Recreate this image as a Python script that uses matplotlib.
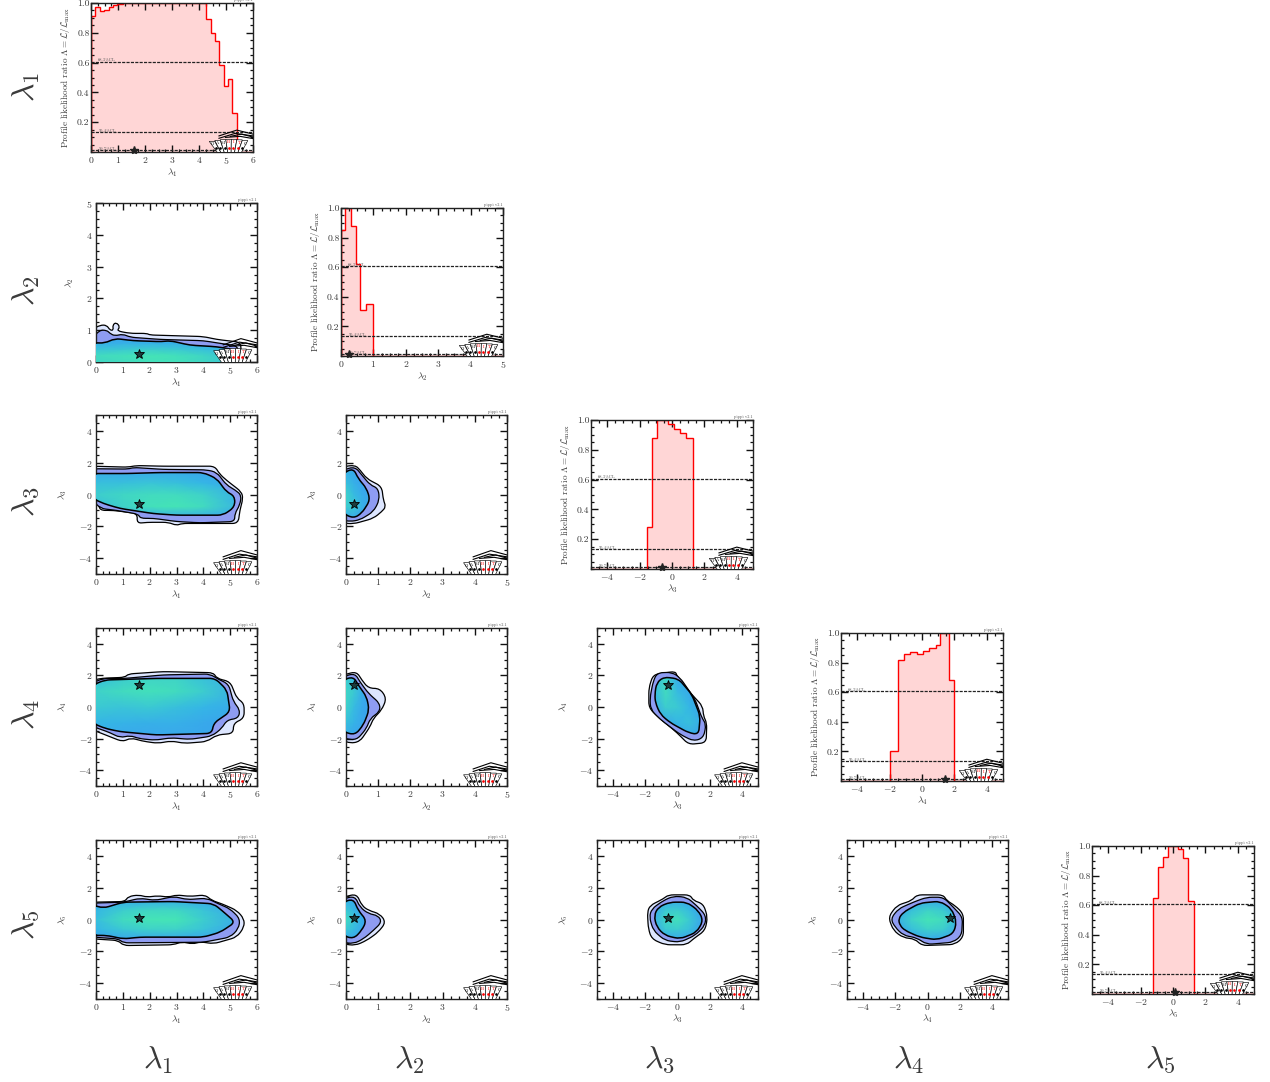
import numpy as np
import matplotlib
matplotlib.use('Agg')
import matplotlib.pyplot as plt
from matplotlib.colors import LinearSegmentedColormap
from matplotlib.patches import Polygon, PathPatch
from matplotlib.path import Path
from matplotlib.ticker import MultipleLocator, FixedLocator, FormatStrFormatter

plt.rcParams['font.family'] = ['cmr10', 'DejaVu Sans']
plt.rcParams['mathtext.fontset'] = 'cm'
plt.rcParams['axes.formatter.use_mathtext'] = True
plt.rcParams['axes.unicode_minus'] = True

W, H = 1270, 1082

names = [r'$\lambda_1$', r'$\lambda_2$', r'$\lambda_3$', r'$\lambda_4$', r'$\lambda_5$']
ranges = [(0, 6), (0, 5), (-5, 5), (-5, 5), (-5, 5)]
best_fit = [1.6, 0.25, -0.6, 1.4, 0.1]
cl_levels = [0.607, 0.135, 0.011]
cl_names = ['68.3%CL', '95.4%CL', '99.7%CL']

# 1D profile likelihood, step edges and heights
prof_edges_1 = [0, .16, .33, .49, .66, .82, .98, 1.2, 4.26, 4.43, 4.59, 4.75, 4.92, 5.08, 5.24, 5.41, 6]
prof_vals_1 = [.91, .97, .945, .955, .975, .985, .995, 1, .895, .80, .745, .585, .44, .49, .26, .002]
prof_edges_2 = [0, .12, .3, .45, .6, .78, .98, 5]
prof_vals_2 = [.85, 1, .88, .62, .31, .35, .002]
prof_edges_3 = [-5, -1.55, -1.23, -.93, -.25, .12, .49, .86, 1.3, 5]
prof_vals_3 = [.002, .28, .88, 1.0, .97, .94, .91, .88, .002]
prof_edges_4 = [-5, -1.98, -1.48, -1.11, -.74, -.31, .06, .43, .86, 1.11, 1.67, 1.98, 5]
prof_vals_4 = [.002, .2, .82, .86, .87, .86, .88, .9, .92, 1.0, .68, .002]
prof_edges_5 = [-5, -1.26, -.95, -.64, -.29, .33, .6, .93, 1.28, 5]
prof_vals_5 = [.002, .65, .855, .925, 1.0, .98, .92, .63, .002]

# 2D contours: (x, y) outlines for 3, 2 and 1 sigma
c12_3 = [(0, 0), (0, 1.03), (.15, 1.16), (.4, 1.16), (.52, 1.0), (.65, 1.0), (.62, 1.16), (.75, 1.25), (.9, 1.1), (.77, .98), (1.27, .9), (1.9, .9), (2, .85), (4, .8), (4.5, .71), (5.4, .62), (5.4, 0)]
c12_2 = [(0, 0), (0, .74), (.12, 1.0), (.4, 1.0), (.52, .9), (.7, .82), (1, .88), (1.27, .78), (2.4, .71), (4, .67), (4.6, .59), (5.3, .5), (5.3, 0)]
c12_1 = [(0, 0), (0, .61), (.33, .59), (.7, .74), (1.4, .67), (2.45, .64), (2.76, .67), (3.5, .53), (4.5, .48), (5.2, .38), (5.2, 0)]

c13_3 = [(0, 1.78), (1.2, 1.72), (1.5, 1.82), (2.5, 1.78), (4.43, 1.78), (4.6, 1.3), (4.86, .9), (5.42, .17), (5.48, -.25), (5.36, -1.0), (5.3, -1.82), (3.2, -1.82), (3, -1.95), (2.7, -1.75), (1.9, -1.75), (1.52, -1.82), (1.55, -1.2), (.65, -1.0), (.14, -1.0), (.1, -.55), (0, -.35)]
c13_2 = [(0, 1.62), (1.2, 1.6), (1.4, 1.7), (2.5, 1.58), (4.12, 1.55), (4.5, 1.4), (4.86, .6), (5.2, .27), (5.42, -.05), (5.36, -.67), (5.17, -1.2), (5.17, -1.7), (3.87, -1.78), (3, -1.7), (2.14, -1.5), (1.65, -1.5), (1.58, -1.24), (.78, -1), (.16, -.88), (0, -.36)]
c13_1 = [(0, 1.32), (1.15, 1.32), (2.38, 1.38), (4, 1.38), (4.5, 1.0), (4.86, .17), (5.17, -.1), (5.17, -.78), (4.74, -1.3), (3, -1.3), (2.14, -1.2), (.9, -.88), (.28, -.57), (0, -.25)]

c23_3 = [(0, 1.75), (.28, 1.85), (.44, 1.54), (.64, 1.0), (1.11, .5), (1.16, -.35), (1.24, -.77), (1.11, -1.08), (.85, -1.5), (.23, -1.85), (0, -1.8)]
c23_2 = [(0, 1.54), (.28, 1.75), (.49, 1.23), (.75, .6), (1, .39), (1.04, -.35), (.85, -1.08), (.43, -1.6), (.12, -1.7), (0, -1.6)]
c23_1 = [(0, 1.33), (.23, 1.65), (.38, 1.0), (.64, .39), (.75, -.35), (.49, -1.18), (.23, -1.5), (0, -1.18)]

c14_3 = [(0, 1.67), (.15, 1.81), (1.08, 1.88), (1.2, 2.09), (2.5, 2.24), (4.38, 2.17), (4.5, 1.81), (5, 1.6), (5.25, .55), (5.52, .23), (5.52, -.72), (5.12, -1.03), (5.12, -1.67), (4.5, -1.77), (4.13, -2.19), (3.3, -2.3), (2.8, -2.15), (2.3, -2.3), (1.7, -2.15), (1.3, -1.95), (1.0, -2.2), (.52, -1.88), (0, -1.45)]
c14_2 = [(0, 1.54), (.27, 1.81), (1.08, 1.81), (2.5, 2.03), (4.25, 2.09), (4.56, 1.75), (4.94, 1.46), (5.12, .34), (5.37, -.19), (5.3, -.72), (4.88, -.82), (4.69, -1.35), (4.32, -1.84), (3.5, -2.05), (2.8, -1.95), (2.2, -2.1), (1.6, -2.0), (1.27, -1.8), (.9, -1.95), (.52, -1.62), (0, -1.24)]
c14_1 = [(0, 1.39), (.33, 1.71), (2.26, 1.81), (4.44, 1.81), (4.88, 1.08), (5, -.3), (4.38, -1.03), (4.32, -1.67), (2.26, -1.77), (.9, -1.56), (.33, -1.35), (0, -1.03)]

c24_3 = [(0, 2.03), (.33, 2.24), (.49, 1.71), (.7, 1.18), (1.05, 1.18), (1.26, .55), (1.11, -.19), (.85, -.72), (.75, -1.24), (.43, -2.19), (.12, -2.3), (0, -2.09)]
c24_2 = [(0, 1.92), (.28, 2.13), (.43, 1.6), (.7, .86), (1.05, .23), (1.05, -.3), (.75, -.72), (.64, -1.35), (.33, -2.09), (0, -1.98)]
c24_1 = [(0, 1.71), (.23, 1.92), (.38, 1.39), (.64, .65), (.72, -.19), (.54, -1.14), (.28, -1.77), (0, -1.56)]

c34_3 = [(-1.78, 1.21), (-1.51, 2.05), (-.13, 2.26), (-.03, 1.95), (.89, .79), (1.57, .05), (1.61, -.58), (1.82, -1), (1.78, -2.26), (.69, -2.37), (-.03, -1.63), (-.65, -1.1), (-1.16, -.68), (-1.78, -.05)]
c34_2 = [(-1.71, .58), (-1.51, 1.63), (-1.26, 2.16), (-.34, 2.2), (.17, 1.84), (1.1, .47), (1.51, -.68), (1.78, -1.1), (1.61, -1.95), (1, -2.16), (.17, -1.74), (-1.06, -.79), (-1.67, -.16)]
c34_1 = [(-1.41, .79), (-1.3, 1.53), (-.85, 1.9), (.07, 1.78), (.89, .79), (1.41, -.58), (1.31, -1.74), (.69, -1.63), (-.44, -1), (-1.06, -.47), (-1.37, .26)]

c15_3 = [(0, 1.09), (1.08, 1.13), (1.2, 1.45), (1.6, 1.55), (1.9, 1.4), (2.3, 1.5), (2.7, 1.4), (3, 1.55), (3.5, 1.45), (4.07, 1.55), (4.31, 1.2), (4.69, .99), (5.25, .57), (5.52, .04), (5.52, -.48), (5.25, -1.11), (4.38, -1.53), (3.9, -1.4), (3.6, -1.55), (3.2, -1.4), (2.89, -1.59), (1.02, -1.64), (.83, -1.32), (0, -1.22)]
c15_2 = [(0, 1.03), (1.02, 1.09), (1.64, 1.34), (2.2, 1.2), (2.9, 1.45), (3.4, 1.25), (4.13, 1.34), (4.56, .99), (5, .67), (5.37, .04), (5.31, -.59), (5, -1.11), (4, -1.43), (1.02, -1.47), (.83, -1.22), (0, -1.11)]
c15_1 = [(0, .92), (.27, .71), (1.02, 1.09), (2.89, 1.13), (4.38, .99), (4.69, .57), (5.19, -.17), (4.63, -.8), (4, -1.11), (1.64, -1.11), (1.02, -1.22), (.4, -1.0), (0, -1.0)]

c25_3 = [(0, 1.4), (.33, 1.61), (.49, .88), (.7, .57), (1.05, .36), (1.24, -.17), (1, -.8), (.64, -1.32), (.28, -1.64), (0, -1.53)]
c25_2 = [(0, 1.3), (.28, 1.47), (.43, .78), (.7, .36), (1, .25), (1.11, -.17), (.85, -.69), (.54, -1.22), (.23, -1.53), (0, -1.43)]
c25_1 = [(0, 1.09), (.23, 1.3), (.38, .57), (.64, -.06), (.49, -.69), (.23, -1.22), (0, -1.0)]

c35_3 = [(-1.87, .46), (-1.71, .88), (-.88, 1.3), (-.57, 1.55), (.78, 1.55), (.98, 1.19), (1.6, .99), (1.87, .15), (1.71, -.69), (.98, -1.22), (.57, -1.59), (-.78, -1.59), (-1.6, -1.22), (-1.81, -.59)]
c35_2 = [(-1.75, .15), (-1.6, .67), (-.88, 1.19), (-.26, 1.47), (.57, 1.4), (1.19, .88), (1.77, .25), (1.71, -.38), (1.09, -1), (.16, -1.43), (-.78, -1.32), (-1.5, -.69)]
c35_1 = [(-1.46, .25), (-1.19, .78), (-.47, 1.09), (.57, 1.09), (1.29, .57), (1.6, -.06), (1.19, -.8), (.16, -1.22), (-.78, -1), (-1.29, -.48)]

c45_3 = [(-2.43, .15), (-1.91, .88), (-.98, 1.19), (-.67, 1.55), (.98, 1.55), (1.19, 1.19), (1.71, .88), (2.23, .36), (2.23, -1.11), (1.71, -1.57), (-.36, -1.64), (-.78, -1.22), (-1.5, -1.15), (-2.12, -.69)]
c45_2 = [(-2.29, .04), (-1.81, .67), (-.88, 1.09), (-.05, 1.4), (.98, 1.4), (1.6, .78), (2.18, .15), (2.12, -1), (1.6, -1.43), (-.05, -1.57), (-.67, -1.15), (-1.5, -1), (-2.02, -.48)]
c45_1 = [(-1.81, .04), (-1.5, .46), (-.47, 1.03), (.78, 1.15), (1.5, .67), (1.81, -.17), (1.6, -.9), (.57, -1.28), (-.47, -1.11), (-1.4, -.69), (-1.71, -.38)]

# likelihood inside the 1 sigma region, coarse grid (rows run along y)
grid_x_1 = [0, 1, 2, 3, 4, 5.5]
grid_x_2 = [0, .25, .5, .8]
grid_x_3 = [-1.5, -.75, 0, .75, 1.5]
grid_x_4 = [-2, -1, 0, 1, 2]
grid_y_2 = [0, .2, .4, .6, .8]
grid_y_3 = [-1.5, -.75, 0, .75, 1.5]
grid_y_4 = [-2, -1, 0, 1, 2]
grid_y_5 = [-1.2, -.6, 0, .6, 1.2]

like_12 = [[.85, .9, .95, .95, .85, .6], [.9, .95, 1, .95, .85, .6], [.65, .7, .75, .7, .6, .4], [.35, .4, .4, .35, .3, .2], [.2, .2, .2, .2, .2, .2]]
like_13 = [[.3, .3, .3, .3, .3, .2], [.6, .8, .95, 1, .9, .4], [.75, .85, .9, .9, .8, .35], [.6, .6, .65, .6, .5, .25], [.25, .25, .25, .25, .2, .15]]
like_14 = [[.25, .25, .25, .25, .25, .15], [.5, .45, .4, .4, .3, .2], [.7, .65, .7, .6, .5, .3], [.8, .9, .95, .9, .75, .3], [.5, .7, .8, .8, .6, .2]]
like_15 = [[.2, .25, .3, .3, .25, .1], [.5, .7, .8, .8, .65, .2], [.6, .9, 1, 1, .75, .25], [.5, .75, .85, .85, .65, .2], [.2, .3, .35, .35, .25, .1]]
like_23 = [[.3, .25, .15, .1], [.75, .7, .4, .15], [.8, .55, .35, .2], [.6, .4, .2, .1], [.4, .3, .15, .1]]
like_24 = [[.25, .2, .1, .1], [.6, .45, .25, .1], [.8, .55, .3, .15], [.85, .7, .35, .15], [.7, .5, .2, .1]]
like_25 = [[.3, .25, .1, .1], [.7, .55, .3, .1], [.9, .65, .35, .15], [.7, .5, .2, .1], [.4, .3, .1, .1]]
like_34 = [[.1, .1, .15, .25, .2], [.15, .3, .5, .6, .35], [.3, .75, .7, .5, .2], [.5, .9, .55, .3, .1], [.6, .8, .3, .1, .1]]
like_35 = [[.1, .25, .3, .2, .1], [.25, .7, .75, .6, .2], [.35, .85, .95, .7, .25], [.3, .7, .75, .55, .2], [.1, .3, .3, .2, .1]]
like_45 = [[.1, .2, .35, .3, .1], [.2, .6, .8, .75, .3], [.3, .8, 1, .9, .4], [.2, .6, .8, .7, .25], [.1, .2, .3, .25, .1]]

logo_letters = ['G', 'A', 'M', 'B', 'I', 'T', 'C']
logo_red = ['B', 'I', 'T']

TEXT = '#3a3a3a'
like_cmap = LinearSegmentedColormap.from_list('like', ['#3d97f2', '#35b6e6', '#45e4b6'])


def make_axes(fig, x0, y0, x1, y1):
    # box given in picture pixels, y from the top
    return fig.add_axes([x0 / W, 1 - y1 / H, (x1 - x0) / W, (y1 - y0) / H])


def style(ax, i, j=None):
    ax.set_xlim(*ranges[i])
    major = 1 if i < 2 else 2
    ax.xaxis.set_major_locator(MultipleLocator(major))
    ax.xaxis.set_minor_locator(MultipleLocator(major / 4))
    if j is not None:
        ax.set_ylim(*ranges[j])
        major = 1 if j < 2 else 2
        ax.yaxis.set_major_locator(MultipleLocator(major))
        ax.yaxis.set_minor_locator(MultipleLocator(major / 4))
    ax.tick_params(which='both', direction='in', top=True, right=True, colors='#111', labelcolor=TEXT,
                   labelsize=7, pad=2.5)
    ax.tick_params(which='major', length=5, width=1.0)
    ax.tick_params(which='minor', length=2.5, width=0.9)
    for s in ax.spines.values():
        s.set_linewidth(1.0)
        s.set_color('#222')
    ax.set_xlabel(names[i], fontsize=7, color=TEXT, labelpad=0)
    ax.text(1.0, 1.006, 'pippi v2.1', transform=ax.transAxes, ha='right', va='bottom', fontsize=3, color='#555')


def draw_logo(ax):
    # little fan of cards in the lower right corner of every panel
    t = ax.transAxes
    n = len(logo_letters)
    for k, letter in enumerate(logo_letters):
        tl = 0.73 + 0.034 * k
        tr = tl + 0.034
        bl = 0.785 + 0.02 * k
        br = bl + 0.02
        top = 0.068 + 0.014 * np.sin(np.pi * (k + 0.5) / n) + 0.001 * k
        ax.add_patch(Polygon([(tl, top), (tr, top), (br, -0.01), (bl, -0.01)], closed=True, transform=t,
                             fc='white', ec='black', lw=0.45, zorder=6))
        col = 'red' if letter in logo_red else 'black'
        ax.text((tl + tr) / 2, top - 0.02, letter, transform=t, fontsize=3.2, color=col,
                ha='center', va='center', zorder=7)
        ax.plot([(tl + tr + bl + br) / 4], [0.03], transform=t, marker='o', ms=0.9, color=col, zorder=7, clip_on=False)
    for xs, ys in [([.79, .90, 1.0], [.108, .147, .12]), ([.79, .89, 1.0], [.092, .125, .108]),
                   ([.83, .92, 1.0], [.098, .105, .09]), ([.86, .93, 1.0], [.105, .12, .1])]:
        ax.plot(xs, ys, transform=t, color='black', lw=0.8, zorder=6)


def profile_panel(ax, i, edges, vals):
    style(ax, i)
    ax.set_ylim(0, 1)
    ax.yaxis.set_major_locator(FixedLocator([.2, .4, .6, .8, 1.0]))
    ax.yaxis.set_major_formatter(FormatStrFormatter('%.1f'))
    ax.yaxis.set_minor_locator(MultipleLocator(.05))
    ax.tick_params(axis='y', pad=1)
    ax.stairs(vals, edges, fill=True, color='#ffd6d6', zorder=1)
    ax.stairs(vals, edges, baseline=0, color='red', lw=1.0, zorder=2)
    ax.plot([edges[0], edges[0]], [0, vals[0]], color='red', lw=1.0, zorder=2)
    for lev, nm in zip(cl_levels, cl_names):
        ax.axhline(lev, color='#222', lw=0.9, ls=(0, (2.5, 1)), zorder=3)
        ax.text(0.045, lev + 0.006, nm, transform=ax.get_yaxis_transform(), fontsize=3.2, color='#555', zorder=3)
    ax.plot([best_fit[i]], [0.012], marker='*', ms=6, color='#222', zorder=4, clip_on=False)
    ax.set_ylabel(r'Profile likelihood ratio $\Lambda = \mathcal{L}/\mathcal{L}_\mathrm{max}$',
                  fontsize=6.6, color=TEXT, labelpad=3.5)
    draw_logo(ax)


def rounded_path(points, ax, radius=0.035):
    # straight edges with rounded corners, radius as a fraction of the axes;
    # vertices on the lower axis limits go slightly past them so the frame stays covered
    xmin, xmax = ax.get_xlim()
    ymin, ymax = ax.get_ylim()
    pts = np.array(points, dtype=float)
    pts[pts[:, 0] == xmin, 0] = xmin - 0.02 * (xmax - xmin)
    pts[pts[:, 1] == ymin, 1] = ymin - 0.02 * (ymax - ymin)
    scale = np.array([xmax - xmin, ymax - ymin])
    n = len(pts)
    verts, codes = [], []
    for k in range(n):
        p, prev, nxt = pts[k], pts[k - 1], pts[(k + 1) % n]
        d_in = np.linalg.norm((p - prev) / scale)
        d_out = np.linalg.norm((nxt - p) / scale)
        a = p + (prev - p) * min(0.5, radius / d_in)
        b = p + (nxt - p) * min(0.5, radius / d_out)
        verts.append(a)
        codes.append(Path.MOVETO if k == 0 else Path.LINETO)
        verts += [p, b]
        codes += [Path.CURVE3, Path.CURVE3]
    verts.append(verts[0])
    codes.append(Path.CLOSEPOLY)
    return Path(verts, codes)


def contour_panel(ax, i, j, outer, mid, inner, gx, gy, like):
    style(ax, i, j)
    ax.set_ylabel(names[j], fontsize=7, color=TEXT, labelpad=7)
    ax.add_patch(PathPatch(rounded_path(outer, ax), fc='#dde6ff', ec='black', lw=0.9, zorder=1))
    ax.add_patch(PathPatch(rounded_path(mid, ax), fc='#8e9cf2', ec='black', lw=0.9, zorder=2))
    core = PathPatch(rounded_path(inner, ax), fc='none', ec='black', lw=1.1, zorder=4)
    mesh = ax.pcolormesh(gx, gy, np.array(like), cmap=like_cmap, vmin=0, vmax=1, shading='gouraud', zorder=3)
    ax.add_patch(core)
    mesh.set_clip_path(core)
    ax.set_xlim(*ranges[i])
    ax.set_ylim(*ranges[j])
    ax.plot([best_fit[i]], [best_fit[j]], marker='*', ms=7, mfc='#1c3c3c', mec='black', mew=0.6, zorder=5)
    draw_logo(ax)


fig = plt.figure(figsize=(W / 100, H / 100), dpi=100)

rows_y = [(203, 362), (415, 574), (628, 786), (840, 999)]
cols_x = [(96, 257), (346, 507), (597, 758), (847, 1008)]

profile_panel(make_axes(fig, 91, 3, 253, 152), 0, prof_edges_1, prof_vals_1)
profile_panel(make_axes(fig, 341, 208, 503, 356), 1, prof_edges_2, prof_vals_2)
profile_panel(make_axes(fig, 591, 420, 753, 569), 2, prof_edges_3, prof_vals_3)
profile_panel(make_axes(fig, 841, 633, 1003, 781), 3, prof_edges_4, prof_vals_4)
profile_panel(make_axes(fig, 1092, 846, 1254, 994), 4, prof_edges_5, prof_vals_5)

panels = [
    (0, 1, c12_3, c12_2, c12_1, grid_x_1, grid_y_2, like_12),
    (0, 2, c13_3, c13_2, c13_1, grid_x_1, grid_y_3, like_13),
    (0, 3, c14_3, c14_2, c14_1, grid_x_1, grid_y_4, like_14),
    (0, 4, c15_3, c15_2, c15_1, grid_x_1, grid_y_5, like_15),
    (1, 2, c23_3, c23_2, c23_1, grid_x_2, grid_y_3, like_23),
    (1, 3, c24_3, c24_2, c24_1, grid_x_2, grid_y_4, like_24),
    (1, 4, c25_3, c25_2, c25_1, grid_x_2, grid_y_5, like_25),
    (2, 3, c34_3, c34_2, c34_1, grid_x_3, grid_y_4, like_34),
    (2, 4, c35_3, c35_2, c35_1, grid_x_3, grid_y_5, like_35),
    (3, 4, c45_3, c45_2, c45_1, grid_x_4, grid_y_5, like_45),
]
for i, j, outer, mid, inner, gx, gy, like in panels:
    x0, x1 = cols_x[i]
    y0, y1 = rows_y[j - 1]
    contour_panel(make_axes(fig, x0, y0, x1, y1), i, j, outer, mid, inner, gx, gy, like)

# big labels along the left and the bottom
for nm, xc in zip(names, [158, 409, 659, 909, 1160]):
    fig.text(xc / W, 1 - 1060 / H, nm, fontsize=23, color=TEXT, ha='center', va='center')
for nm, yc in zip(names, [87, 291, 502, 714, 925]):
    fig.text(26 / W, 1 - yc / H, nm, fontsize=23, color=TEXT, ha='center', va='center', rotation=90)

fig.savefig('out.png', dpi=100)
